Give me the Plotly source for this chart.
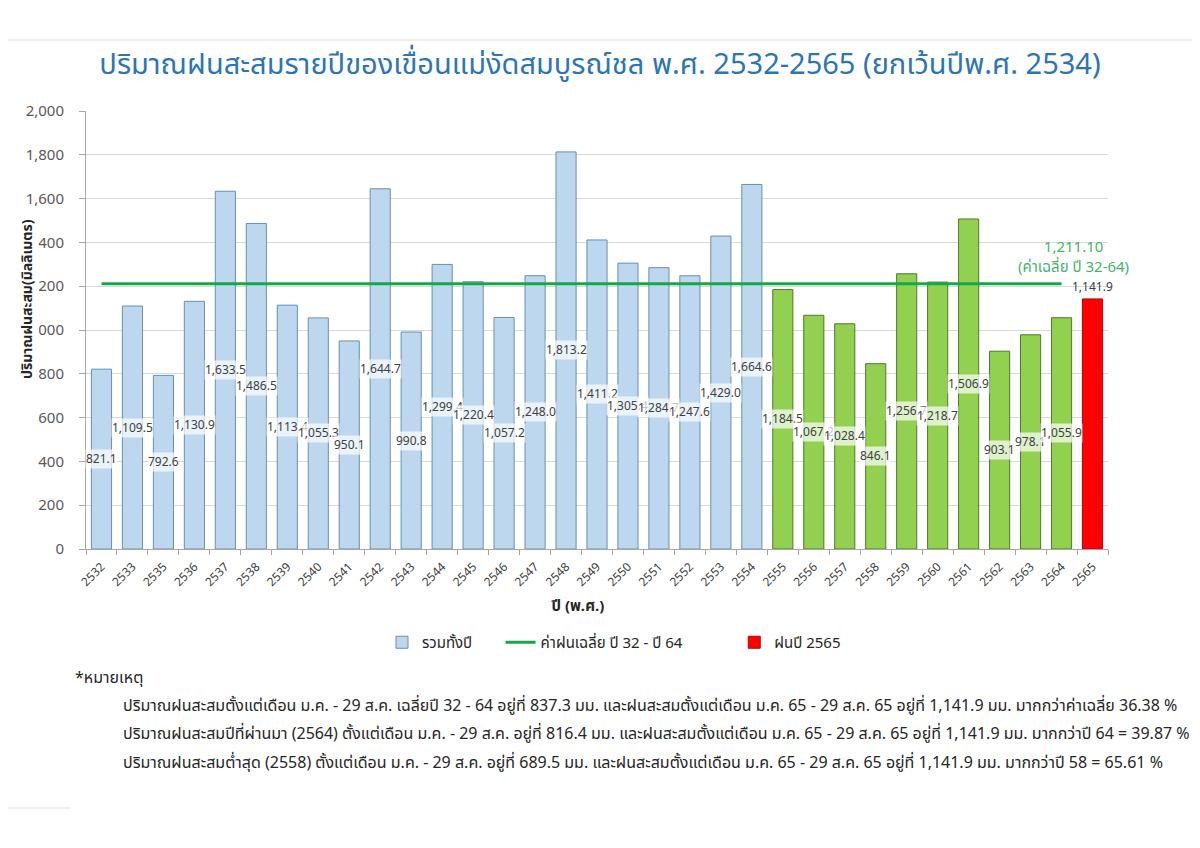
import plotly.graph_objects as go

# ปีที่มีข้อมูล (ไม่มีปี 2534)
years = ['2532', '2533', '2535', '2536', '2537', '2538', '2539', '2540', '2541', '2542', '2543',
         '2544', '2545', '2546', '2547', '2548', '2549', '2550', '2551', '2552', '2553', '2554',
         '2555', '2556', '2557', '2558', '2559', '2560', '2561', '2562', '2563', '2564', '2565']
rain = [821.1, 1109.5, 792.6, 1130.9, 1633.5, 1486.5, 1113.4, 1055.3, 950.1, 1644.7, 990.8,
        1299.4, 1220.4, 1057.2, 1248.0, 1813.2, 1411.2, 1305.4, 1284.7, 1247.6, 1429.0, 1664.6,
        1184.5, 1067.2, 1028.4, 846.1, 1256.7, 1218.7, 1506.9, 903.1, 978.1, 1055.9, 1141.9]
avg_rain = 1211.10
y_ticks = [0, 200, 400, 600, 800, 1000, 1200, 1400, 1600, 1800, 2000]

n_blue = 22   # 2532-2554
n_green = 10  # 2555-2564

notes = [
    "ปริมาณฝนสะสมตั้งแต่เดือน ม.ค. - 29 ส.ค. เฉลี่ยปี 32 - 64 อยู่ที่ 837.3 มม. และฝนสะสมตั้งแต่เดือน ม.ค. 65 - 29 ส.ค. 65 อยู่ที่ 1,141.9 มม. มากกว่าค่าเฉลี่ย 36.38 %",
    "ปริมาณฝนสะสมปีที่ผ่านมา (2564) ตั้งแต่เดือน ม.ค. - 29 ส.ค. อยู่ที่ 816.4 มม. และฝนสะสมตั้งแต่เดือน ม.ค. 65 - 29 ส.ค. 65 อยู่ที่ 1,141.9 มม. มากกว่าปี 64 = 39.87 %",
    "ปริมาณฝนสะสมต่ำสุด (2558) ตั้งแต่เดือน ม.ค. - 29 ส.ค. อยู่ที่ 689.5 มม. และฝนสะสมตั้งแต่เดือน ม.ค. 65 - 29 ส.ค. 65 อยู่ที่ 1,141.9 มม. มากกว่าปี 58 = 65.61 %",
]

FONT = "Tahoma, Leelawadee UI, Noto Sans Thai, Noto Sans, sans-serif"
NB = "\u00a0"

# หน้าเว็บมีขอบ 8px จึงเลื่อนขอบกราฟชดเชย
OFF = 8
L, T, PW, PH = 86 - OFF, 111 - OFF, 1022, 438
R = 1200 - L - PW
B = 848 - T - PH


def px(xp):
    return (xp - OFF - L) / PW


def py(yp):
    return (T + PH - (yp - OFF)) / PH


fig = go.Figure()
fig.add_trace(go.Bar(x=years[:n_blue], y=rain[:n_blue], name="รวมทั้งปี" + NB * 6,
                     marker=dict(color="#BDD7EE", line=dict(color="#6A8EB4", width=1))))
fig.add_trace(go.Bar(x=years[n_blue:n_blue + n_green], y=rain[n_blue:n_blue + n_green],
                     showlegend=False,
                     marker=dict(color="#92D050", line=dict(color="#4E7A2A", width=1))))
fig.add_trace(go.Scatter(x=years[:n_blue + n_green], y=[avg_rain] * (n_blue + n_green),
                         mode="lines", name="ค่าฝนเฉลี่ย ปี 32 - ปี 64" + NB * 12,
                         line=dict(color="#14A84A", width=3)))
fig.add_trace(go.Bar(x=years[-1:], y=rain[-1:], name="ฝนปี 2565",
                     marker=dict(color="#FF0000", line=dict(color="#C00000", width=1))))

# ป้ายค่ากลางแท่ง (x เป็นลำดับของหมวด)
for i, v in enumerate(rain[:-1]):
    fig.add_annotation(x=i, y=v / 2, text=f"{v:,.1f}", showarrow=False,
                       bgcolor="rgba(255,255,255,0.7)", borderpad=0,
                       font=dict(size=12, color="#404040", family=FONT))
fig.add_annotation(x=len(rain) - 1, y=rain[-1], text=f"{rain[-1]:,.1f}", showarrow=False,
                   yanchor="bottom", yshift=1, font=dict(size=12, color="#404040", family=FONT))

fig.add_annotation(x=px(1073), xref="paper", y=avg_rain, yanchor="bottom", yshift=3, xanchor="center",
                   showarrow=False, text="1,211.10<br>(ค่าเฉลี่ย ปี 32-64)",
                   font=dict(size=15, color="#45B46E", family=FONT))

# ชื่อแกน
fig.add_annotation(x=px(27), xref="paper", y=py(299), yref="paper", textangle=-90,
                   xanchor="center", yanchor="middle",
                   showarrow=False, text="<b>ปริมาณฝนสะสม(มิลลิเมตร)</b>", bgcolor="white",
                   borderpad=0, font=dict(size=14, color="#262626", family=FONT))
fig.add_annotation(x=px(577), xref="paper", y=py(606), yref="paper",
                   xanchor="center", yanchor="middle",
                   showarrow=False, text="<b>ปี (พ.ศ.)</b>",
                   font=dict(size=15, color="#262626", family=FONT))

fig.add_annotation(x=px(73), xref="paper", y=py(678), yref="paper", yanchor="middle",
                   xanchor="left", showarrow=False, text="*หมายเหตุ",
                   font=dict(size=16, color="#262626", family=FONT))
for ny, line in zip([706, 734, 763], notes):
    fig.add_annotation(x=px(121), xref="paper", y=py(ny), yref="paper",
                       showarrow=False, text=line, align="left", xanchor="left", yanchor="middle",
                       font=dict(size=16, color="#262626", family=FONT))

fig.update_layout(
    width=1200, height=848,
    paper_bgcolor="white", plot_bgcolor="white",
    margin=dict(l=L, r=R, t=T, b=B),
    barmode="overlay", bargap=0.35,
    font=dict(family=FONT, color="#404040"),
    title=dict(text="ปริมาณฝนสะสมรายปีของเขื่อนแม่งัดสมบูรณ์ชล พ.ศ. 2532-2565 (ยกเว้นปีพ.ศ. 2534)",
               x=px(600), xanchor="center", xref="paper", y=1 - 56 / 848, yanchor="middle",
               font=dict(size=29, color="#2E75B6", family=FONT)),
    xaxis=dict(type="category", range=[-0.5, len(years) - 0.5], tickangle=-45,
               tickfont=dict(size=12, color="#404040"),
               showline=True, linecolor="#A6A6A6", ticks="outside", tickson="boundaries",
               ticklen=5, tickcolor="#A6A6A6", ticklabelstandoff=5),
    yaxis=dict(range=[0, 2000], tickvals=y_ticks, tickformat=",", tickfont=dict(size=15, color="#595959"),
               showgrid=True, gridcolor="#D9D9D9", showline=True, linecolor="#A6A6A6",
               ticks="outside", ticklen=6, tickcolor="#A6A6A6", zeroline=False,
               ticklabelstandoff=12),
    legend=dict(orientation="h", x=px(614), xanchor="center", y=py(626), yanchor="top",
                font=dict(size=15, color="#262626")),
    shapes=[dict(type="line", xref="paper", yref="paper", x0=px(0), x1=px(1200),
                 y0=py(40), y1=py(40), line=dict(color="#D9D9D9", width=1)),
            dict(type="line", xref="paper", yref="paper", x0=px(0), x1=px(70),
                 y0=py(808), y1=py(808), line=dict(color="#E0E0E0", width=1))],
)

fig.write_html("out.html")
